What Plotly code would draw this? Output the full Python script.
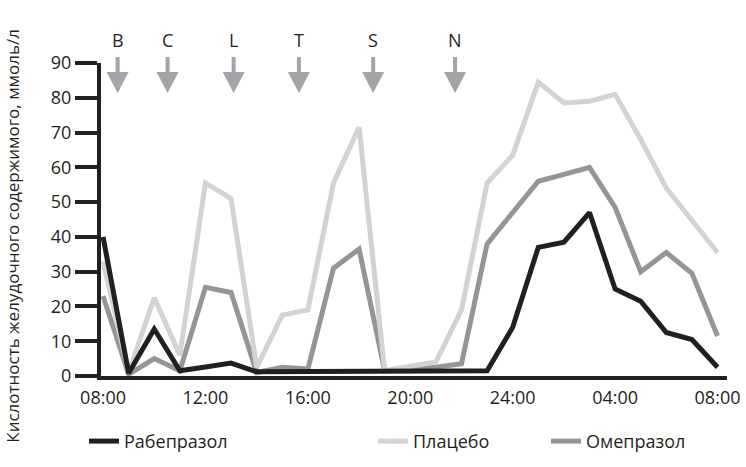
import plotly.graph_objects as go

# ---- data ----
hours = list(range(25))
tick_hours = [0, 4, 8, 12, 16, 20, 24]
tick_labels = ["08:00", "12:00", "16:00", "20:00", "24:00", "04:00", "08:00"]

rabeprazole = [40, 0.8, 13.5, 1.5, 2.6, 3.7, 1.2, 1.2, 1.2, 1.2, 1.2, 1.2, 1.2, 1.2, 1.2, 1.5,
               14, 37, 38.5, 47, 25, 21.5, 12.5, 10.5, 2.5]
placebo = [33, 1, 22.5, 6, 55.5, 51, 2.5, 17.5, 19, 55.5, 71.5, 1.5, 2.8, 4, 19, 55.5,
           63.5, 84.5, 78.5, 79, 81, 68, 54, 45, 35.5]
omeprazole = [23, 0.5, 5, 1.5, 25.5, 24, 1, 2.5, 2, 31, 36.5, 1.5, 2, 2.5, 3.5, 38,
              47, 56, 58, 60, 48.5, 30, 35.5, 29.5, 11.5]

event_labels = ["B", "C", "L", "T", "S", "N"]
event_hours = [0.57, 2.52, 5.1, 7.65, 10.55, 13.75]

names = ["Рабепразол", "Плацебо", "Омепразол"]
colors = {"Рабепразол": "#231f20", "Плацебо": "#d1d3d4", "Омепразол": "#939598"}
TEXT = "#231f20"
ARROW = "#a2a4a7"
FONT = "Open Sans"

W, HT = 746, 467
PL, PR, PT, PB = 101, 727, 63, 376.5   # plot area in window pixels
PH = PB - PT
PW = PR - PL

def py(pix):
    return (PB - pix) / PH

def px(pix):
    return (pix - PL) / PW

fig = go.Figure()
# draw order: omeprazole, placebo, rabeprazole on top
fig.add_trace(go.Scatter(x=hours, y=omeprazole, name=names[2], mode="lines",
                         line=dict(color=colors[names[2]], width=5), legend="legend3",
                         showlegend=True))
fig.add_trace(go.Scatter(x=hours, y=placebo, name=names[1], mode="lines",
                         line=dict(color=colors[names[1]], width=5), legend="legend2",
                         showlegend=True))
fig.add_trace(go.Scatter(x=hours, y=rabeprazole, name=names[0], mode="lines",
                         line=dict(color=colors[names[0]], width=5), legend="legend",
                         showlegend=True))

half = 11 / 25.6
shapes = []
annotations = []
for lab, h in zip(event_labels, event_hours):
    shapes.append(dict(type="line", xref="x", yref="paper", x0=h, x1=h,
                       y0=py(57), y1=py(76), line=dict(color=ARROW, width=4)))
    shapes.append(dict(type="path", xref="x", yref="paper",
                       path=f"M {h-half},{py(72)} L {h+half},{py(72)} L {h},{py(93)} Z",
                       fillcolor=ARROW, line=dict(width=0)))
    annotations.append(dict(x=h, y=py(40), xref="x", yref="paper", text=lab,
                            showarrow=False, xanchor="center", yanchor="middle",
                            font=dict(family=FONT, size=18, color=TEXT)))

annotations.append(dict(x=px(13), y=py(236), xref="paper", yref="paper",
                        text="Кислотность желудочного содержимого, ммоль/л",
                        textangle=-90, showarrow=False, xanchor="center", yanchor="middle",
                        font=dict(family=FONT, size=17, color=TEXT)))

leg_common = dict(orientation="h", yanchor="middle", y=py(442), xanchor="left",
                  bgcolor="rgba(0,0,0,0)", borderwidth=0,
                  font=dict(family=FONT, size=18, color=TEXT))

fig.update_layout(
    width=W, height=HT,
    margin=dict(l=PL, r=W - PR, t=PT, b=HT - PB, pad=0, autoexpand=False),
    paper_bgcolor="white", plot_bgcolor="white",
    showlegend=True,
    font=dict(family=FONT, size=18, color=TEXT),
    shapes=shapes, annotations=annotations,
    legend=dict(x=px(84), **leg_common),
    legend2=dict(x=px(373), **leg_common),
    legend3=dict(x=px(546), **leg_common),
    xaxis=dict(range=[-0.08, 24.37], tickvals=tick_hours, ticktext=tick_labels,
               showline=True, linecolor=TEXT, linewidth=4, ticks="", ticklabelstandoff=2,
               showgrid=False, zeroline=False, tickfont=dict(family=FONT, size=18, color=TEXT)),
    yaxis=dict(range=[0, 90], dtick=10, showline=True, linecolor=TEXT, linewidth=4,
               ticks="outside", ticklen=22, tickwidth=4, tickcolor=TEXT,
               showgrid=False, zeroline=False, tickfont=dict(family=FONT, size=18, color=TEXT)),
)

fig.write_html("out.html",
               config={"displayModeBar": False},
               post_script="document.body.style.margin='0';document.body.style.overflow='hidden';")
